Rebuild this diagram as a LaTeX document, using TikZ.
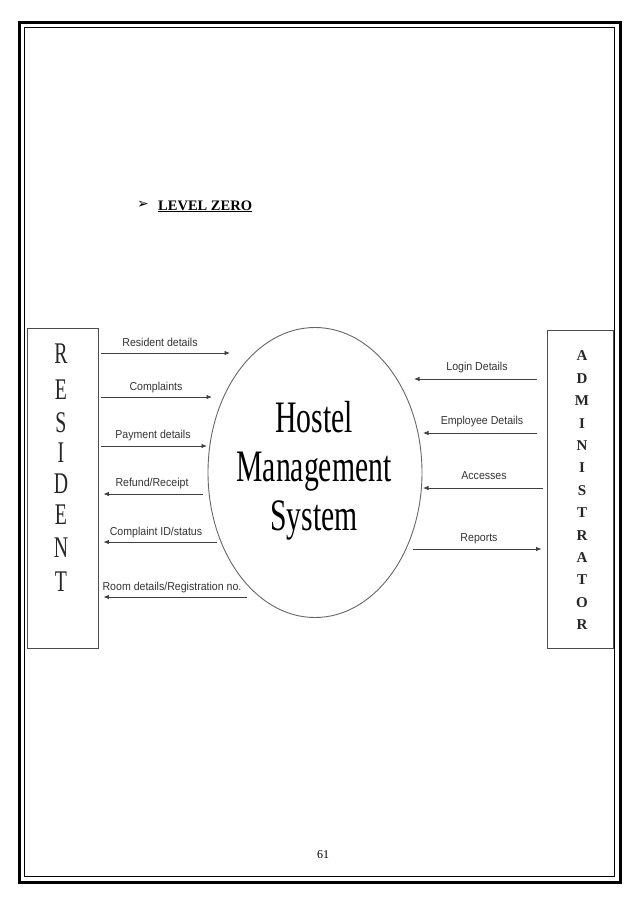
\documentclass[tikz,border=0pt]{standalone}
\usepackage{fontspec}
\setmainfont{Liberation Serif}
\newfontfamily\lblfont[FakeStretch=0.92]{Liberation Sans}
\newfontfamily\condfont[FakeStretch=0.66]{Liberation Serif}
\newfontfamily\symfont{DejaVu Sans}
\usetikzlibrary{arrows.meta,shapes.geometric}
\begin{document}
\begin{tikzpicture}[x=1pt,y=-1pt,
  flow/.style={draw=black!75, line width=0.8pt, -{Latex[length=5.5pt,width=4.5pt]}},
  flowlbl/.style={font=\lblfont\fontsize{11.5}{13}\selectfont, text=black!80, inner sep=0, text height=8.5pt, text depth=2.2pt},
  entbox/.style={draw=black!70, line width=0.9pt, inner sep=0},
  resletter/.style={font=\condfont\fontsize{30}{32}\selectfont, text=black!85, inner sep=0},
  admletter/.style={font=\bfseries\fontsize{15}{16}\selectfont, text=black!85, inner sep=0},
  procnode/.style={ellipse, draw=black!60, line width=0.9pt, inner sep=0}
]
\useasboundingbox (0,0) rectangle (638,903);
% page frame
\draw[line width=3pt] (19,22) rectangle (620,882);
\draw[line width=1.2pt] (24.5,27.5) rectangle (614.5,876.5);
% heading
\node[font=\symfont\fontsize{14}{16}\selectfont, inner sep=0] (bullet) at (143,205) {➢};
\node[anchor=base west, font=\bfseries\fontsize{14.5}{16}\selectfont, inner sep=0] (title) at (158,210) {\underline{LEVEL ZERO}};
% entities
\node[entbox, minimum width=71pt, minimum height=320pt] (res) at (62.5,488) {};
\foreach \l/\yy [count=\i] in {R/354,E/390,S/423,I/453,D/484,E/515,N/548,T/582}
  \node[resletter] (r\i) at (61,\yy) {\l};
\node[entbox, minimum width=66pt, minimum height=318pt] (adm) at (580,489) {};
\foreach \l [count=\i] in {A,D,M,I,N,I,S,T,R,A,T,O,R}
  \node[admletter] (a\i) at (582,{356+22.4*(\i-1)}) {\l};
% process
\node[procnode, minimum width=214pt, minimum height=290pt] (hms) at (315,472.5) {};
\node[font=\condfont\fontsize{45}{49}\selectfont, align=center, inner sep=0] (hmstext) at (314,471) {Hostel\\Management\\System};
% flow end points
\coordinate (e1) at (230,353);
\coordinate (e2) at (212,397);
\coordinate (e3) at (207,446);
\coordinate (s4) at (203,494);
\coordinate (s5) at (217,542);
\coordinate (s6) at (247,597);
\coordinate (e7) at (414,379);
\coordinate (e8) at (423,433);
\coordinate (e9) at (423,488);
\coordinate (s10) at (413,549);
% resident flows
\draw[flow] ([xshift=3pt]res.east |- e1) -- (e1);
\draw[flow] ([xshift=3pt]res.east |- e2) -- (e2);
\draw[flow] ([xshift=3pt]res.east |- e3) -- (e3);
\draw[flow] (s4) -- ([xshift=5pt]res.east |- s4);
\draw[flow] (s5) -- ([xshift=5pt]res.east |- s5);
\draw[flow] (s6) -- ([xshift=5pt]res.east |- s6);
\node[flowlbl] (l1) at (160,343) {Resident details};
\node[flowlbl] (l2) at (156,387) {Complaints};
\node[flowlbl] (l3) at (153,435) {Payment details};
\node[flowlbl] (l4) at (152,483) {Refund/Receipt};
\node[flowlbl] (l5) at (156,532) {Complaint ID/status};
\node[flowlbl] (l6) at (172,587) {Room details/Registration no.};
% administrator flows
\draw[flow] ([xshift=-10pt]adm.west |- e7) -- (e7);
\draw[flow] ([xshift=-10pt]adm.west |- e8) -- (e8);
\draw[flow] ([xshift=-4pt]adm.west |- e9) -- (e9);
\draw[flow] (s10) -- ([xshift=-5pt]adm.west |- s10);
\node[flowlbl] (l7) at (477,367) {Login Details};
\node[flowlbl] (l8) at (482,421) {Employee Details};
\node[flowlbl] (l9) at (484,476) {Accesses};
\node[flowlbl] (l10) at (479,538) {Reports};
% page number
\node[font=\fontsize{12}{14}\selectfont, inner sep=0] (pgno) at (323,855) {61};
\end{tikzpicture}
\end{document}
